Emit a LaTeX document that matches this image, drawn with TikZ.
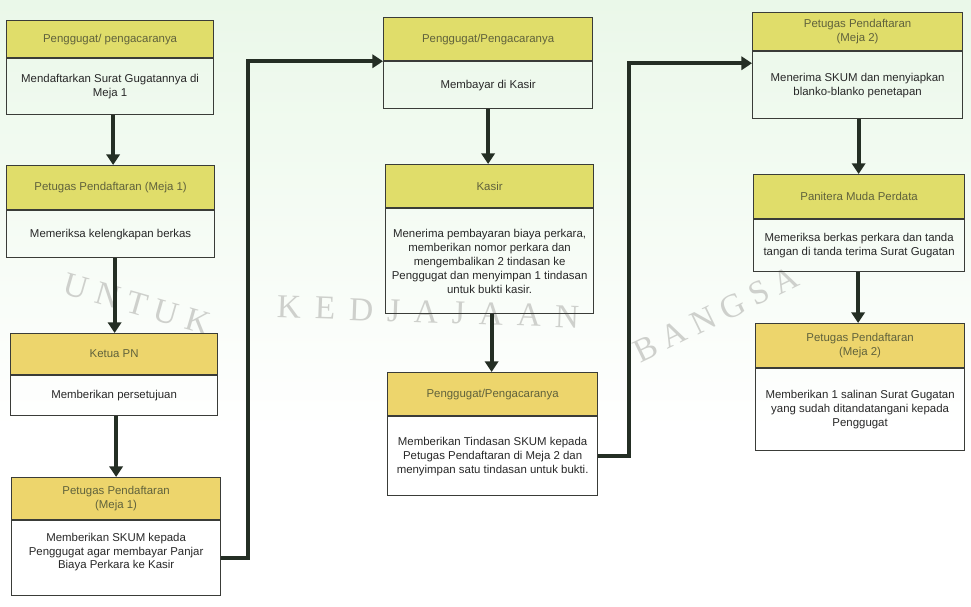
\documentclass[tikz,border=0pt]{standalone}
\usepackage{fontspec}
\setmainfont{Liberation Sans}
\newfontfamily\wmfont{Liberation Serif}
\usetikzlibrary{arrows.meta,calc}

\definecolor{headlime}{RGB}{224,221,106}
\definecolor{headgold}{RGB}{237,213,108}
\definecolor{edge}{RGB}{58,60,56}
\definecolor{flow}{RGB}{36,46,36}
\definecolor{wash}{RGB}{220,243,218}
\definecolor{wmgray}{RGB}{206,208,204}
\definecolor{headtext}{RGB}{96,98,60}
\definecolor{bodytext}{RGB}{40,40,40}

% one drawing unit = one pixel of the 971 x 606 canvas
\def\pu{0.02cm}

\tikzset{
  headbox/.style={draw=edge, line width=0.7pt, inner sep=1pt, align=center,
    text=headtext, font=\fontsize{6.5}{8}\selectfont},
  bodybox/.style={draw=edge, line width=0.7pt, inner sep=1pt, align=center,
    text=bodytext, font=\fontsize{6.5}{7.9}\selectfont},
  flowline/.style={draw=flow, line width=2.3pt,
    -{Triangle[width=7.5pt,length=6pt]}},
  wmtext/.style={text=wmgray, inner sep=0pt, font=\wmfont\fontsize{19}{19}\selectfont}
}

% #1 name, #2 left, #3 top, #4 width, #5 header height, #6 body height,
% #7 header text, #8 body text, #9 header fill
\newcommand{\flowbox}[9]{%
  \node[headbox, fill=#9, minimum width=#4*\pu, minimum height=#5*\pu,
        anchor=north west] (#1H) at (#2,#3) {#7};
  \node[bodybox, minimum width=#4*\pu, minimum height=#6*\pu,
        anchor=north] (#1B) at (#1H.south) {#8};}

\begin{document}
\begin{tikzpicture}[x=0.02cm, y=-0.02cm]
\useasboundingbox (0,0) rectangle (971,606);

% background wash and emblem lettering
\fill[white] (0,0) rectangle (971,606);
\shade[top color=wash!60!white, middle color=wash, bottom color=white]
  (0,0) rectangle (971,430);
\node[wmtext, rotate=-16] (wm1) at (137,304) {U N T U K};
\node[wmtext, rotate=-2] (wm2) at (428,312) {K\, E\, D\, J\, A\, J\, A\, A\, N};
\node[wmtext, rotate=26] (wm3) at (716,314) {B A N G S A};

% first column
\flowbox{a}{6}{20}{207}{37}{56}{Penggugat/ pengacaranya}
  {Mendaftarkan Surat Gugatannya di\\Meja 1}{headlime}
\flowbox{b}{6}{165}{208}{44}{47}{Petugas Pendaftaran (Meja 1)}
  {Memeriksa kelengkapan berkas}{headlime}
\flowbox{c}{10}{333}{207}{41}{40}{Ketua PN}
  {Memberikan persetujuan}{headgold}
\flowbox{d}{11}{477}{209}{42}{75}{Petugas Pendaftaran\\(Meja 1)}
  {Memberikan SKUM kepada\\Penggugat agar membayar Panjar\\Biaya Perkara ke Kasir\\[0.5pt]\mbox{}}{headgold}

% second column
\flowbox{e}{383}{17}{209}{43}{47}{Penggugat/Pengacaranya}
  {Membayar di Kasir}{headlime}
\flowbox{f}{385}{164}{208}{43}{105}{Kasir}
  {Menerima pembayaran biaya perkara,\\memberikan nomor perkara dan\\mengembalikan 2 tindasan ke\\Penggugat dan menyimpan 1 tindasan\\untuk bukti kasir.}{headlime}
\flowbox{g}{387}{372}{210}{43}{79}{Penggugat/Pengacaranya}
  {Memberikan Tindasan SKUM kepada\\Petugas Pendaftaran di Meja 2 dan\\menyimpan satu tindasan untuk bukti.}{headgold}

% third column
\flowbox{h}{752}{12}{210}{38}{67}{Petugas Pendaftaran\\(Meja 2)}
  {Menerima SKUM dan menyiapkan\\blanko-blanko penetapan}{headlime}
\flowbox{i}{753}{174}{211}{44}{52}{Panitera Muda Perdata}
  {Memeriksa berkas perkara dan tanda\\tangan di tanda terima Surat Gugatan}{headlime}
\flowbox{j}{755}{323}{209}{44}{82}{Petugas Pendaftaran\\(Meja 2)}
  {Memberikan 1 salinan Surat Gugatan\\yang sudah ditandatangani kepada\\Penggugat}{headgold}

% connectors
\draw[flowline] ([xshift=3*\pu]aB.south) -- ([xshift=3*\pu]aB.south |- bH.north);
\draw[flowline] ([xshift=4*\pu]bB.south) -- ([xshift=4*\pu]bB.south |- cH.north);
\draw[flowline] ([xshift=2*\pu]cB.south) -- ([xshift=2*\pu]cB.south |- dH.north);
\draw[flowline] (dB.east) -- ++(27,0) |- (eH.south west);

\draw[flowline] (eB.south) -- (eB.south |- fH.north);
\draw[flowline] ([xshift=2*\pu]fB.south) -- ([xshift=2*\pu]fB.south |- gH.north);
\draw[flowline] (gB.east) -- ++(31,0) |- ($(hB.north west)+(0,12)$);

\draw[flowline] ([xshift=1*\pu]hB.south) -- ([xshift=1*\pu]hB.south |- iH.north);
\draw[flowline] ([xshift=-1*\pu]iB.south) -- ([xshift=-1*\pu]iB.south |- jH.north);
\end{tikzpicture}
\end{document}
